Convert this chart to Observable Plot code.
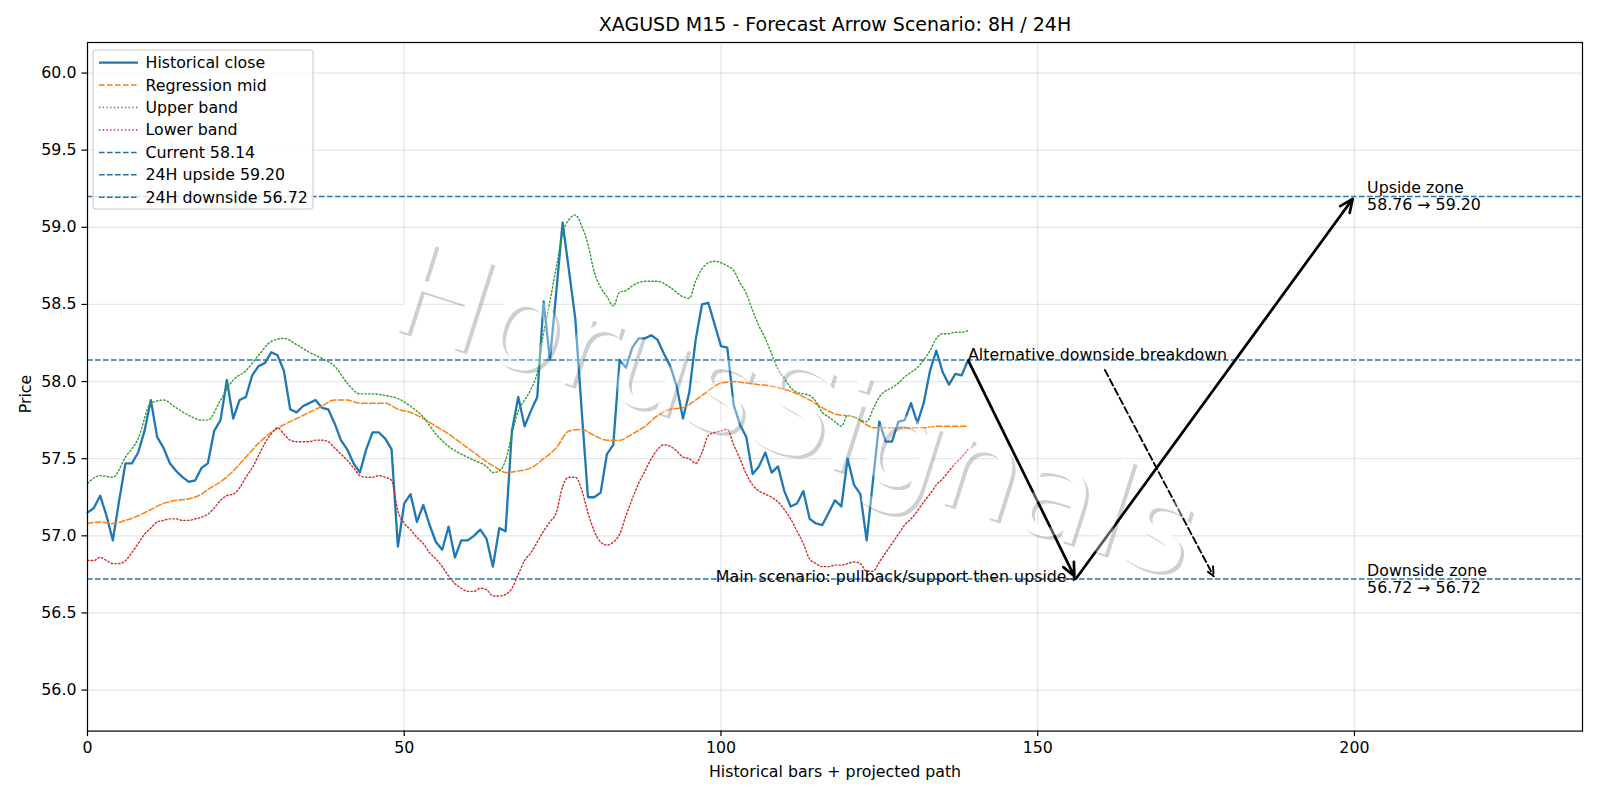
<!DOCTYPE html>
<html>
<head>
<meta charset="utf-8">
<script src="https://cdn.jsdelivr.net/npm/d3@7"></script>
<script src="https://cdn.jsdelivr.net/npm/@observablehq/plot@0.6"></script>
<style>
  html, body { margin: 0; padding: 0; background: #ffffff; }
  #chart { width: 1600px; height: 800px; }
</style>
</head>
<body>
<div id="chart"></div>
<script>
// XAGUSD M15 closes, one value per bar (bar index = array index)
const closeValues = [
  57.15, 57.18, 57.26, 57.13, 56.97, 57.23, 57.47, 57.47, 57.54, 57.68,
  57.88, 57.64, 57.57, 57.47, 57.42, 57.38, 57.35, 57.36, 57.44, 57.47,
  57.68, 57.75, 58.01, 57.76, 57.88, 57.90, 58.04, 58.10, 58.12, 58.19,
  58.17, 58.07, 57.82, 57.80, 57.84, 57.86, 57.88, 57.83, 57.82, 57.73,
  57.62, 57.56, 57.47, 57.41, 57.56, 57.67, 57.67, 57.63, 57.56, 56.93,
  57.21, 57.27, 57.09, 57.20, 57.07, 56.96, 56.91, 57.06, 56.86, 56.97,
  56.97, 57.00, 57.04, 56.98, 56.80, 57.05, 57.03, 57.68, 57.90, 57.71,
  57.81, 57.90, 58.52, 58.14, 58.58, 59.03, 58.72, 58.41, 57.82, 57.25,
  57.25, 57.28, 57.53, 57.59, 58.14, 58.09, 58.22, 58.28, 58.28, 58.30,
  58.27, 58.18, 58.10, 57.97, 57.76, 57.93, 58.27, 58.50, 58.51, 58.37,
  58.23, 58.22, 57.85, 57.72, 57.64, 57.40, 57.45, 57.54, 57.41, 57.45,
  57.29, 57.19, 57.21, 57.29, 57.11, 57.08, 57.07, 57.15, 57.23, 57.19,
  57.50, 57.33, 57.27, 56.97, 57.36, 57.74, 57.61, 57.61, 57.74, 57.75,
  57.86, 57.73, 57.86, 58.07, 58.20, 58.06, 57.98, 58.05, 58.04, 58.14
];

// Regression channel: [bar, price]
const regressionMid = [
  [0,57.08],[2,57.09],[4,57.08],[6,57.10],[8,57.13],[10,57.17],[12,57.21],[14,57.23],
  [16,57.24],[18,57.27],[19,57.30],[21,57.35],[23,57.42],[25,57.51],[27,57.60],[29,57.67],
  [31,57.72],[33,57.76],[35,57.80],[37,57.84],[39,57.88],[41,57.88],[43,57.86],[45,57.86],
  [47,57.86],[49,57.82],[51,57.80],[53,57.76],[55,57.71],[57,57.66],[59,57.60],[61,57.54],
  [63,57.48],[65,57.43],[66,57.41],[68,57.42],[70,57.44],[72,57.50],[74,57.57],[76,57.68],
  [78,57.69],[80,57.65],[82,57.62],[84,57.62],[86,57.66],[88,57.71],[90,57.78],[92,57.82],
  [94,57.83],[96,57.88],[98,57.94],[100,57.99],[102,58.00],[104,57.99],[106,57.98],[108,57.97],
  [110,57.95],[112,57.92],[114,57.88],[116,57.83],[118,57.79],[121,57.77],[123,57.72],[124,57.70],
  [126,57.70],[128,57.70],[130,57.70],[132,57.70],[134,57.71],[136,57.71],[138,57.71],[139,57.71]
];

const upperBand = [
  [0,57.34],[2,57.39],[4,57.38],[6,57.51],[8,57.63],[10,57.86],[12,57.88],[14,57.83],
  [16,57.78],[18,57.75],[19,57.75],[21,57.88],[23,58.01],[25,58.07],[27,58.17],[29,58.26],
  [31,58.28],[33,58.24],[35,58.19],[37,58.15],[39,58.10],[41,57.99],[43,57.92],[45,57.92],
  [47,57.91],[49,57.89],[51,57.84],[53,57.77],[55,57.66],[57,57.58],[59,57.53],[61,57.49],
  [63,57.45],[64,57.41],[65,57.42],[66,57.49],[67,57.66],[68,57.81],[69,57.88],[70,57.95],
  [71,58.06],[72,58.31],[73,58.52],[74,58.74],[75,58.96],[76,59.05],[77,59.08],[78,59.01],
  [79,58.89],[80,58.71],[81,58.61],[82,58.55],[83,58.49],[84,58.58],[85,58.59],[86,58.62],
  [88,58.65],[90,58.65],[92,58.61],[94,58.55],[95,58.54],[96,58.65],[97,58.73],[98,58.77],
  [99,58.78],[100,58.77],[101,58.75],[102,58.72],[103,58.64],[104,58.57],[105,58.46],[106,58.36],
  [107,58.28],[108,58.18],[109,58.08],[110,58.02],[111,57.96],[112,57.93],[113,57.92],[114,57.91],
  [115,57.87],[116,57.80],[117,57.77],[118,57.74],[119,57.71],[120,57.78],[121,57.77],[122,57.75],
  [123,57.74],[124,57.82],[125,57.90],[126,57.94],[127,57.96],[128,57.99],[129,58.03],[130,58.06],
  [131,58.09],[132,58.14],[133,58.20],[134,58.28],[135,58.31],[136,58.31],[137,58.32],[138,58.32],
  [139,58.33]
];

const lowerBand = [
  [0,56.84],[1,56.84],[2,56.86],[3,56.84],[4,56.82],[5,56.82],[6,56.84],[7,56.89],[8,56.95],[9,57.01],
  [10,57.05],[11,57.09],[12,57.10],[13,57.11],[14,57.11],[15,57.10],[16,57.10],[17,57.11],[18,57.12],[19,57.14],
  [20,57.18],[21,57.23],[22,57.26],[23,57.27],[24,57.31],[25,57.38],[26,57.44],[27,57.52],[28,57.60],[29,57.66],
  [30,57.70],[31,57.66],[32,57.62],[33,57.61],[34,57.61],[35,57.61],[36,57.62],[37,57.62],[38,57.61],[39,57.57],
  [40,57.53],[41,57.49],[42,57.44],[43,57.39],[44,57.38],[45,57.38],[46,57.39],[47,57.38],[48,57.36],[49,57.16],
  [50,57.08],[51,57.04],[52,56.99],[53,56.95],[54,56.89],[55,56.85],[56,56.80],[57,56.74],[58,56.69],[59,56.66],
  [60,56.64],[61,56.64],[62,56.66],[63,56.65],[64,56.61],[65,56.61],[66,56.62],[67,56.66],[68,56.75],[69,56.84],
  [70,56.89],[71,56.96],[72,57.03],[73,57.09],[74,57.15],[75,57.32],[76,57.38],[77,57.38],[78,57.30],[79,57.15],
  [80,57.03],[81,56.96],[82,56.94],[83,56.96],[84,57.01],[85,57.13],[86,57.24],[87,57.34],[88,57.42],[89,57.50],
  [90,57.56],[91,57.59],[92,57.58],[93,57.55],[94,57.51],[95,57.50],[96,57.47],[97,57.54],[98,57.65],[99,57.67],
  [100,57.68],[101,57.69],[102,57.59],[103,57.50],[104,57.40],[105,57.33],[106,57.29],[107,57.27],[108,57.25],[109,57.22],
  [110,57.17],[111,57.11],[112,57.03],[113,56.95],[114,56.85],[115,56.82],[116,56.80],[117,56.80],[118,56.81],[119,56.81],
  [120,56.82],[121,56.83],[122,56.82],[123,56.77],[124,56.77],[125,56.83],[126,56.89],[127,56.95],[128,57.01],[129,57.07],
  [130,57.11],[131,57.16],[132,57.22],[133,57.27],[134,57.33],[135,57.37],[136,57.42],[137,57.47],[138,57.51],[139,57.56]
];

// Reference levels
const levelNames = ["Current", "24H upside", "24H downside"];
const levelValues = [58.14, 59.20, 56.72];
const upsideZoneFrom = 58.76;

// Projected scenario paths: [bar, price]
const mainPath = [[139, 58.14], [156, 56.72], [200, 59.20]];
const altPath = [[160.6, 58.075], [178, 56.72]];

// Axis ticks
const xTicks = [0, 50, 100, 150, 200];
const yTicks = [56.0, 56.5, 57.0, 57.5, 58.0, 58.5, 59.0, 59.5, 60.0];

const titleText = "XAGUSD M15 - Forecast Arrow Scenario: 8H / 24H";
const xLabel = "Historical bars + projected path";
const yLabel = "Price";
const watermark = "HorusSignals";

const C0 = "#1f77b4", C1 = "#ff7f0e", C2 = "#2ca02c", C3 = "#d62728";
const FONT = "'DejaVu Sans', 'Liberation Sans', sans-serif";
const FS = 15.8;      // body text size
const FS_TITLE = 19;  // title size

const closeSeries = closeValues.map((v, i) => ({bar: i, price: v}));
const mainSegments = d3.pairs(mainPath).map(([a, b]) => ({x1: a[0], y1: a[1], x2: b[0], y2: b[1]}));
const altSegments = d3.pairs(altPath).map(([a, b]) => ({x1: a[0], y1: a[1], x2: b[0], y2: b[1]}));

const fmt2 = v => v.toFixed(2);
const zoneLabels = [
  {bar: 202, price: levelValues[1], text: `Upside zone\n${fmt2(upsideZoneFrom)} → ${fmt2(levelValues[1])}`},
  {bar: 202, price: levelValues[2], text: `Downside zone\n${fmt2(levelValues[2])} → ${fmt2(levelValues[2])}`}
];
const altLabel = [{bar: mainPath[0][0], price: mainPath[0][1], text: "Alternative downside breakdown"}];
const mainLabel = [{bar: 154.55, price: 56.735, text: "Main scenario: pullback/support then upside"}];
const pointer = [{x1: 154.6, y1: levelValues[2], x2: mainPath[1][0], y2: levelValues[2]}];

const W = 1600, H = 800;
const plot = Plot.plot({
  width: W,
  height: H,
  marginLeft: 87,
  marginRight: 18,
  marginTop: 42,
  marginBottom: 69.4,
  x: {domain: [0, 236]},
  y: {domain: [55.734, 60.198]},
  style: {fontFamily: FONT, fontSize: `${FS}px`, color: "black", background: "white", overflow: "visible"},
  marks: [
    Plot.gridX(xTicks, {stroke: "#b0b0b0", strokeOpacity: 0.32, strokeWidth: 1.2}),
    Plot.gridY(yTicks, {stroke: "#b0b0b0", strokeOpacity: 0.32, strokeWidth: 1.2}),
    Plot.line(closeSeries, {x: "bar", y: "price", stroke: C0, strokeWidth: 2.3}),
    Plot.line(regressionMid, {x: d => d[0], y: d => d[1], stroke: C1, strokeWidth: 1.5, strokeDasharray: "5.6,2.4", curve: "monotone-x"}),
    Plot.line(upperBand, {x: d => d[0], y: d => d[1], stroke: C2, strokeWidth: 1.4, strokeDasharray: "1.4,2.3", curve: "monotone-x"}),
    Plot.line(lowerBand, {x: d => d[0], y: d => d[1], stroke: C3, strokeWidth: 1.4, strokeDasharray: "1.4,2.3", curve: "monotone-x"}),
    Plot.ruleY(levelValues, {stroke: C0, strokeWidth: 1.5, strokeDasharray: "5.6,2.4"}),
    Plot.arrow(mainSegments, {x1: "x1", y1: "y1", x2: "x2", y2: "y2", stroke: "black", strokeWidth: 2.7, headLength: 8, headAngle: 48, insetEnd: 3, insetStart: 1}),
    Plot.arrow(altSegments, {x1: "x1", y1: "y1", x2: "x2", y2: "y2", stroke: "black", strokeWidth: 1.9, strokeDasharray: "7,3.5", headLength: 8, headAngle: 48, insetEnd: 3}),
    Plot.arrow(pointer, {x1: "x1", y1: "y1", x2: "x2", y2: "y2", stroke: "black", strokeWidth: 1.2, headLength: 8, headAngle: 70}),
    Plot.text(altLabel, {x: "bar", y: "price", text: "text", textAnchor: "start", lineAnchor: "bottom", fill: "black", fontSize: FS}),
    Plot.text(mainLabel, {x: "bar", y: "price", text: "text", textAnchor: "end", lineAnchor: "middle", fill: "black", fontSize: FS}),
    Plot.text(zoneLabels, {x: "bar", y: "price", text: "text", textAnchor: "start", lineAnchor: "middle", lineHeight: 1.08, fill: "black", fontSize: FS}),
    Plot.frame({stroke: "black", strokeWidth: 1.2}),
    Plot.axisX(xTicks, {tickSize: 5.5, tickPadding: 5, label: null, tickFormat: d => String(d), stroke: "black", strokeWidth: 1.2, fill: "black", fontSize: FS}),
    Plot.axisY(yTicks, {tickSize: 5.5, tickPadding: 5.5, label: null, tickFormat: d => d.toFixed(1), stroke: "black", strokeWidth: 1.2, fill: "black", fontSize: FS}),
    Plot.text([titleText], {frameAnchor: "top", dy: -17.3, lineAnchor: "middle", fontSize: FS_TITLE, fill: "black"}),
    Plot.text([xLabel], {frameAnchor: "bottom", dy: 41, lineAnchor: "middle", fill: "black", fontSize: FS})
  ]
});

document.getElementById("chart").appendChild(plot);

const svg = d3.select(plot);

// Y axis title, rotated, left of the tick labels
svg.append("text")
  .attr("transform", "translate(25.5,394) rotate(-90)")
  .attr("text-anchor", "middle")
  .attr("dy", "0.35em")
  .attr("font-family", FONT)
  .attr("font-size", FS)
  .attr("fill", "black")
  .text(yLabel);

// Watermark: drop shadow + white face laid under the data lines,
// then a translucent white face over everything so lines read lighter inside the letters
const wmX = 782, wmY = 452, wmAngle = 17.6, wmSize = 128, wmShift = 3.2;
const faceTransform = `translate(${wmX},${wmY}) rotate(${wmAngle})`;
const shadowTransform = `translate(${wmX + wmShift},${wmY + wmShift}) rotate(${wmAngle})`;
const firstLine = plot.querySelector('g[aria-label="line"]');
const under = d3.create("svg:g").attr("aria-label", "watermark");
under.append("text")
  .attr("transform", shadowTransform)
  .attr("text-anchor", "middle")
  .attr("font-family", FONT)
  .attr("font-size", wmSize)
  .attr("fill", "#7a7a7a")
  .attr("fill-opacity", 0.36)
  .text(watermark);
under.append("text")
  .attr("transform", faceTransform)
  .attr("text-anchor", "middle")
  .attr("font-family", FONT)
  .attr("font-size", wmSize)
  .attr("fill", "#ffffff")
  .text(watermark);
plot.insertBefore(under.node(), firstLine);
svg.append("text")
  .attr("transform", faceTransform)
  .attr("text-anchor", "middle")
  .attr("font-family", FONT)
  .attr("font-size", wmSize)
  .attr("fill", "#ffffff")
  .attr("fill-opacity", 0.35)
  .text(watermark);

// Legend box in the upper-left corner of the plot area
const legendEntries = [
  {label: "Historical close", stroke: C0, width: 2.3, dash: null},
  {label: "Regression mid", stroke: C1, width: 1.5, dash: "5.6,2.4"},
  {label: "Upper band", stroke: C2, width: 1.4, dash: "1.4,2.3"},
  {label: "Lower band", stroke: C3, width: 1.4, dash: "1.4,2.3"},
  ...levelNames.map((n, i) => ({label: `${n} ${fmt2(levelValues[i])}`, stroke: C0, width: 1.5, dash: "5.6,2.4"}))
];
const lg = svg.append("g").attr("transform", "translate(93,50)");
lg.append("rect")
  .attr("width", 220).attr("height", 159).attr("rx", 3).attr("ry", 3)
  .attr("fill", "white").attr("fill-opacity", 0.8)
  .attr("stroke", "#cccccc").attr("stroke-width", 1.1);
legendEntries.forEach((e, i) => {
  const cy = 12.6 + i * 22.45;
  lg.append("line")
    .attr("x1", 6).attr("x2", 45).attr("y1", cy).attr("y2", cy)
    .attr("stroke", e.stroke).attr("stroke-width", e.width)
    .attr("stroke-dasharray", e.dash);
  lg.append("text")
    .attr("x", 52.5).attr("y", cy).attr("dy", "0.35em")
    .attr("text-anchor", "start")
    .attr("font-family", FONT).attr("font-size", FS).attr("fill", "black")
    .text(e.label);
});
</script>
</body>
</html>
